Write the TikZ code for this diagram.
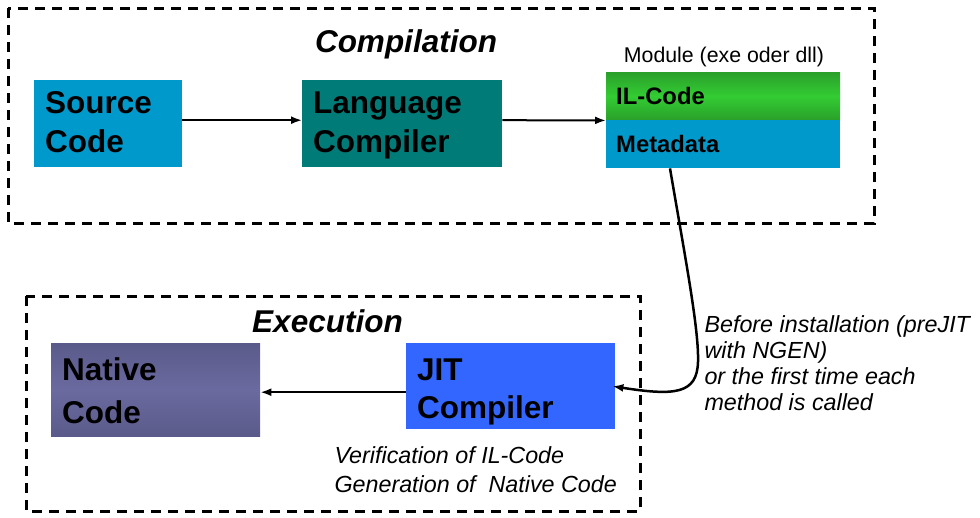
\documentclass[tikz,border=0pt]{standalone}
\usepackage{fontspec}
\setmainfont{Liberation Sans}
\usetikzlibrary{arrows.meta}
\definecolor{srcblue}{HTML}{0099CC}
\definecolor{teal2}{HTML}{007B78}
\definecolor{ilgreen}{HTML}{33CC33}
\definecolor{ilgreendk}{HTML}{2AA02A}
\definecolor{nat}{HTML}{5A5A8A}
\definecolor{natlt}{HTML}{6A6AA0}
\definecolor{jitblue}{HTML}{3366FF}
\newcommand{\topstrut}[1]{\rule{0pt}{#1}}
\newcommand{\botstrut}[1]{\rule[-#1]{0pt}{#1}}
\tikzset{
  dashbox/.style={draw=black, line width=3pt, dash pattern=on 10pt off 7pt},
  bigbox/.style={draw=none, anchor=north west, align=left, inner xsep=11pt, inner ysep=0pt,
     font=\bfseries\fontsize{31.5}{39}\selectfont},
  modpart/.style={draw=none, anchor=north west, align=left, inner xsep=10pt, inner ysep=0pt,
     minimum width=234pt, text width=214pt, minimum height=48pt,
     font=\bfseries\fontsize{23.8}{26}\selectfont},
  arr/.style={line width=2pt, -{Latex[length=11pt,width=8pt]}},
  title/.style={anchor=base, font=\bfseries\itshape\fontsize{31.5}{36}\selectfont},
  note/.style={anchor=base west, align=left, font=\itshape\fontsize{23.3}{26}\selectfont}
}
\begin{document}
\begin{tikzpicture}[x=1pt,y=-1pt]
\useasboundingbox (0,0) rectangle (980,517);
% dashed frames
\draw[dashbox] (8,8) rectangle (874,223);
\draw[dashbox] (26,296) rectangle (640,511);
% Compilation
\node[title] (comptitle) at (406,52) {Compilation};
\node[bigbox, fill=srcblue, minimum width=148pt, text width=126pt, minimum height=87pt]
  (src) at (34,80) {\topstrut{25pt}Source\\Code\botstrut{7pt}};
\node[bigbox, fill=teal2, minimum width=200pt, text width=178pt, minimum height=87pt]
  (lang) at (302,80) {\topstrut{25pt}Language\\Compiler\botstrut{7pt}};
\node[anchor=base, font=\fontsize{21.3}{24}\selectfont] (modlabel) at (724,62) {Module (exe oder dll)};
\node[modpart, top color=ilgreendk, bottom color=ilgreendk, middle color=ilgreen] (il) at (606,72) {IL-Code};
\node[modpart, fill=srcblue] (meta) at (606,120) {Metadata};
\draw[arr] ([yshift=3.5pt]src.east) -- ([yshift=3.5pt]lang.west);
\draw[arr] ([yshift=3.5pt]lang.east) -- (il.south west);
% Execution
\node[title] (exectitle) at (327.5,332) {Execution};
\node[bigbox, top color=nat, bottom color=nat, middle color=natlt, minimum width=209pt, text width=187pt, minimum height=93pt,
  font=\bfseries\fontsize{31.5}{43}\selectfont] (native) at (51,343) {\topstrut{30pt}Native\\Code\botstrut{6pt}};
\node[bigbox, fill=jitblue, minimum width=209pt, text width=187pt, minimum height=86pt,
  font=\bfseries\fontsize{31.5}{38}\selectfont] (jit) at (406,343) {\topstrut{33pt}JIT\\Compiler\botstrut{7pt}};
\draw[arr] ([yshift=-6pt]jit.west) -- ([yshift=-2.5pt]native.east);
\node[note, font=\itshape\fontsize{23.3}{28.5}\selectfont] (verif) at (331,492) {Verification of IL-Code\\Generation of\ \ Native Code};
% connector from module to JIT
\coordinate (metaout) at ([xshift=64pt]meta.south west);
\coordinate (jitin) at ([xshift=-3pt]jit.east);
\draw[arr, line width=2.5pt] (metaout) .. controls (686,262) and (699,330) .. (698,362)
   .. controls (697,394) and (675,396) .. (jitin);
\node[note] (before) at (701,410) {Before installation (preJIT\\with NGEN)\\or the first time each\\method is called};
\end{tikzpicture}
\end{document}
